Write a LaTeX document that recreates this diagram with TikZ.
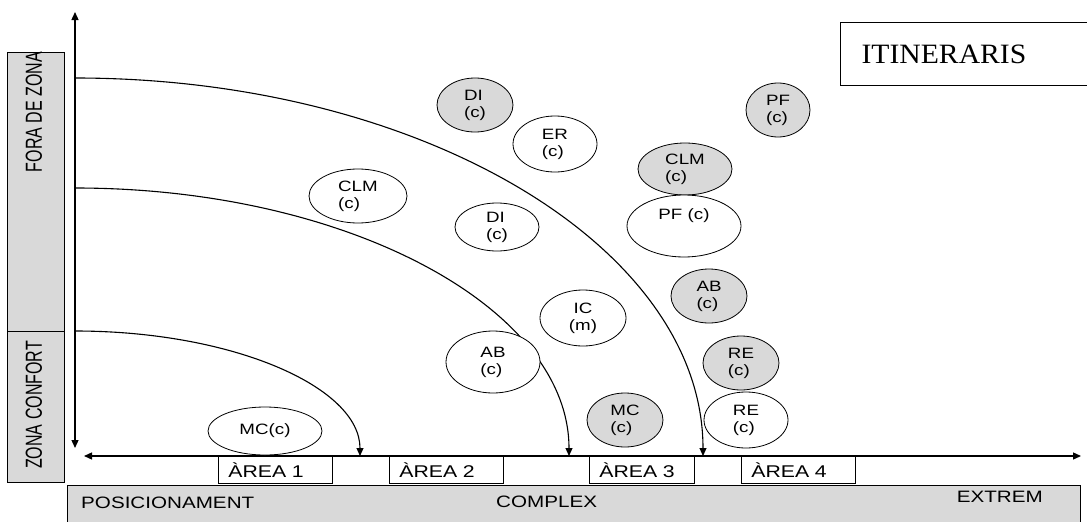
\documentclass[tikz,border=0pt]{standalone}
\usepackage{fontspec}
\usepackage{tikz}
\usetikzlibrary{arrows.meta,positioning,shapes.geometric}
\newfontfamily\widesans{Liberation Sans}[FakeStretch=1.25]
\newfontfamily\plainsans{Liberation Sans}
\newfontfamily\wideserif{Liberation Serif}[FakeStretch=1.06]
\definecolor{panelgray}{HTML}{D9D9D9}
\definecolor{ink}{HTML}{000000}
\tikzset{
    zonebar/.style={draw=ink,fill=panelgray,line width=0.8pt},
    zonelabel/.style={rotate=90,inner sep=0pt,
      font=\plainsans\fontsize{16}{19}\selectfont},
    areabox/.style={draw=ink,fill=white,line width=0.8pt,
      minimum height=27pt,text width=94pt,inner xsep=10pt,inner ysep=0pt,
      align=left,font=\widesans\fontsize{17}{19}\selectfont},
    bubble/.style={draw=ink,fill=white,ellipse,line width=0.8pt,inner sep=0pt,
      align=left,font=\widesans\fontsize{15}{17}\selectfont},
    hot/.style={fill=panelgray},
    scalelabel/.style={inner sep=0pt,font=\widesans\fontsize{16.5}{19}\selectfont},
    titlebox/.style={draw=ink,fill=white,line width=1pt,inner xsep=21pt,
      align=left,font=\wideserif\fontsize{28}{32}\selectfont},
    axisarrow/.style={{Triangle[length=8pt,width=7pt]}-{Triangle[length=8pt,width=7pt]},
      draw=ink,line width=1.3pt},
    patharrow/.style={-{Triangle[length=8pt,width=7pt]},draw=ink,line width=1.1pt}
}

\begin{document}
\begin{tikzpicture}[x=1pt,y=-1pt]
  \useasboundingbox (0,0) rectangle (1087,522);

  % comfort / out-of-zone column
  \draw[zonebar] (7,52) rectangle (64,331);
  \draw[zonebar] (7,331) rectangle (64,482);
  \node[zonelabel] (fora) at (34,112) {\scalebox{1}[1.45]{FORA DE ZONA}};
  \node[zonelabel] (confort) at (34,405) {\scalebox{1}[1.45]{ZONA CONFORT}};

  % difficulty band along the bottom
  \draw[zonebar] (67,485) rectangle (1080,530);
  \node[scalelabel,anchor=base west] (posic) at (81,508) {POSICIONAMENT};
  \node[scalelabel,anchor=base west] (complex) at (496,507) {COMPLEX};
  \node[scalelabel,anchor=base east] (extrem) at (1043,502) {EXTREM};

  % axes
  \coordinate (ytop) at (75,12);
  \coordinate (ybot) at (75,448);
  \coordinate (xleft) at (84,456);
  \coordinate (xright) at (1081,456);
  \draw[axisarrow] (ybot) -- (ytop);
  \draw[axisarrow] (xleft) -- (xright);

  % itineraries
  \coordinate (start1) at (75,331);
  \coordinate (start2) at (75,188);
  \coordinate (start3) at (75,78);
  \draw[patharrow] (start1) arc[start angle=270,end angle=360,x radius=285,y radius=125];
  \draw[patharrow] (start2) arc[start angle=270,end angle=360,x radius=494,y radius=268];
  \draw[patharrow] (start3) arc[start angle=270,end angle=360,x radius=628,y radius=378];

  % areas
  \node[areabox,anchor=north west] (area1) at (218,456) {ÀREA 1};
  \node[areabox,anchor=north west] (area2) at (389,456) {ÀREA 2};
  \node[areabox,anchor=north west,text width=85pt] (area3) at (589,456) {ÀREA 3};
  \node[areabox,anchor=north west] (area4) at (741,456) {ÀREA 4};

  \node[titlebox,anchor=north west,minimum width=260pt,minimum height=63pt,
        text width=218pt] (title) at (840,22) {ITINERARIS};

  % activities
  \node[bubble,hot,minimum width=76pt,minimum height=54pt] (di1) at (475,105) {DI\\(c)};
  \node[bubble,minimum width=84pt,minimum height=56pt] (er) at (555,144) {ER\\(c)};
  \node[bubble,hot,minimum width=64pt,minimum height=54pt] (pf1) at (778,110) {PF\\(c)};
  \node[bubble,hot,minimum width=94pt,minimum height=52pt] (clm1) at (685,169) {CLM\\(c)};
  \node[bubble,minimum width=114pt,minimum height=62pt] (pf2) at (684,226) {PF (c)\\[6pt]\mbox{}};
  \node[bubble,minimum width=84pt,minimum height=48pt] (di2) at (497,227) {DI\\(c)};
  \node[bubble,minimum width=98pt,minimum height=54pt] (clm2) at (358,196) {CLM\\(c)};
  \node[bubble,align=center,minimum width=86pt,minimum height=56pt] (ic) at (583,318) {IC\\(m)};
  \node[bubble,hot,minimum width=76pt,minimum height=54pt] (ab1) at (709,296) {AB\\(c)};
  \node[bubble,minimum width=94pt,minimum height=62pt] (ab2) at (493,362) {AB\\(c)};
  \node[bubble,hot,minimum width=76pt,minimum height=54pt] (re1) at (741,363) {RE\\(c)};
  \node[bubble,minimum width=84pt,minimum height=56pt] (re2) at (746,420) {RE\\(c)};
  \node[bubble,hot,minimum width=76pt,minimum height=54pt] (mc1) at (625,420) {MC\\(c)};
  \node[bubble,minimum width=114pt,minimum height=48pt] (mc2) at (265,431) {MC(c)};
\end{tikzpicture}
\end{document}
